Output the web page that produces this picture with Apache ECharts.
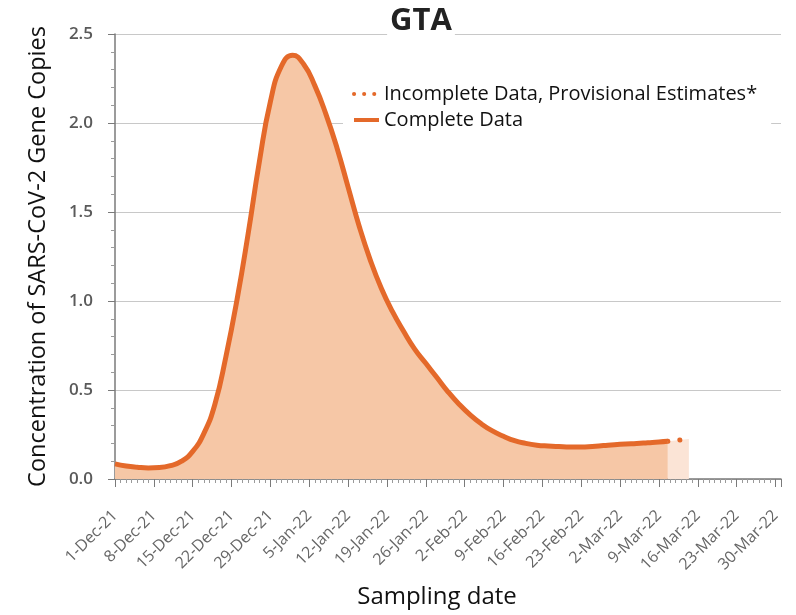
<!DOCTYPE html>
<html>
<head>
<meta charset="utf-8">
<script src="https://cdn.jsdelivr.net/npm/echarts@6/dist/echarts.min.js"></script>
<style>html,body{margin:0;padding:0;background:#fff}#c{width:796px;height:615px}</style>
</head>
<body>
<div id="c"></div>
<script>
const tickLabels = ['1-Dec-21','8-Dec-21','15-Dec-21','22-Dec-21','29-Dec-21','5-Jan-22','12-Jan-22','19-Jan-22','26-Jan-22','2-Feb-22','9-Feb-22','16-Feb-22','23-Feb-22','2-Mar-22','9-Mar-22','16-Mar-22','23-Mar-22','30-Mar-22'];
// day index since 1-Dec-21
const completeDays = [0,2,4,6,8,10,12,14,16,18,20,22,24,26,28,30,32,34,36,38,40,42,44,46,48,50,52,54,56,58,60,62,64,66,68,70,72,74,76,78,80,82,84,86,88,90,92,94,96,98,99.6];
const completeValues = [0.085,0.073,0.066,0.062,0.064,0.075,0.100,0.155,0.255,0.42,0.69,1.01,1.38,1.78,2.12,2.32,2.38,2.33,2.21,2.05,1.86,1.64,1.42,1.23,1.07,0.94,0.83,0.73,0.65,0.57,0.49,0.42,0.36,0.31,0.27,0.24,0.215,0.20,0.19,0.185,0.182,0.18,0.18,0.183,0.188,0.193,0.197,0.20,0.204,0.208,0.212];
const incompleteDays = [99.6,103.4];
const incompleteValues = [0.212,0.225];
const yTicks = [0,0.5,1.0,1.5,2.0,2.5];

const FONT = 'Open Sans';
const LINE = '#E4692A';
const completeData = completeDays.map((d,i)=>[d,completeValues[i]]);
const incompleteData = incompleteDays.map((d,i)=>[d,incompleteValues[i]]);

const chart = echarts.init(document.getElementById('c'), null, {renderer:'canvas'});
chart.setOption({
  animation:false,
  backgroundColor:'#fff',
  title:{
    text:'GTA', left:418, top:4, textAlign:'center',
    backgroundColor:'#fff', padding:[2,3],
    textStyle:{fontFamily:FONT, fontSize:31, fontWeight:'bold', color:'#222'}
  },
  legend:{
    orient:'vertical', left:343, top:80,
    backgroundColor:'#fff',
    padding:[4,14,5,9],
    itemWidth:25, itemHeight:14, itemGap:6,
    itemStyle:{opacity:0},
    textStyle:{fontFamily:FONT, fontSize:20, color:'#111'},
    data:[
      {name:'Incomplete Data, Provisional Estimates*', lineStyle:{color:LINE, width:4, type:[0.1,10], cap:'round'}},
      {name:'Complete Data', lineStyle:{color:LINE, width:4, type:'solid'}}
    ]
  },
  grid:{left:115, right:15, top:34, bottom:136, containLabel:false},
  xAxis:{
    type:'value', min:0, max:120, interval:7,
    name:'Sampling date', nameLocation:'middle', nameGap:106,
    nameTextStyle:{fontFamily:FONT, fontSize:24, color:'#111', padding:[0,22,0,0]},
    axisLine:{show:true, lineStyle:{color:'#7a7a7a', width:1.5}},
    axisTick:{show:true, length:8, lineStyle:{color:'#7a7a7a'}},
    minorTick:{show:true, splitNumber:7, length:4, lineStyle:{color:'#9a9a9a'}},
    splitLine:{show:false},
    axisLabel:{
      rotate:45, margin:34, fontFamily:FONT, fontSize:16, color:'#666',
      formatter:function(v){ const i=Math.round(v/7); return (Math.abs(v-i*7)<1e-6 && tickLabels[i]) ? tickLabels[i] : ''; }
    }
  },
  yAxis:{
    type:'value', min:0, max:2.5, interval:0.5,
    name:'Concentration of SARS-CoV-2 Gene Copies', nameLocation:'middle', nameGap:65,
    nameTextStyle:{fontFamily:FONT, fontSize:23.5, color:'#111'},
    axisLine:{show:true, lineStyle:{color:'#7a7a7a', width:1.5}},
    axisTick:{show:true, length:7, lineStyle:{color:'#7a7a7a'}},
    minorTick:{show:true, splitNumber:5, length:4, lineStyle:{color:'#9a9a9a'}},
    splitLine:{show:true, lineStyle:{color:'#c8c8c8', width:1.2}},
    axisLabel:{
      margin:22, fontFamily:FONT, fontSize:17, fontWeight:600, color:'#5a5a5a',
      formatter:function(v){ return yTicks.indexOf(v)>=0 ? v.toFixed(1) : ''; }
    }
  },
  series:[
    {
      name:'Incomplete Data, Provisional Estimates*', type:'line', data:incompleteData,
      symbol:'none', z:3,
      lineStyle:{color:LINE, width:5, type:[0.1,12], cap:'round'},
      itemStyle:{color:LINE},
      areaStyle:{color:'#FBE4D6', opacity:1}
    },
    {
      name:'Complete Data', type:'line', data:completeData, smooth:0.5,
      symbol:'none', z:4,
      lineStyle:{color:LINE, width:5},
      itemStyle:{color:LINE},
      areaStyle:{color:'#F6C7A6', opacity:1}
    }
  ]
});
</script>
</body>
</html>
